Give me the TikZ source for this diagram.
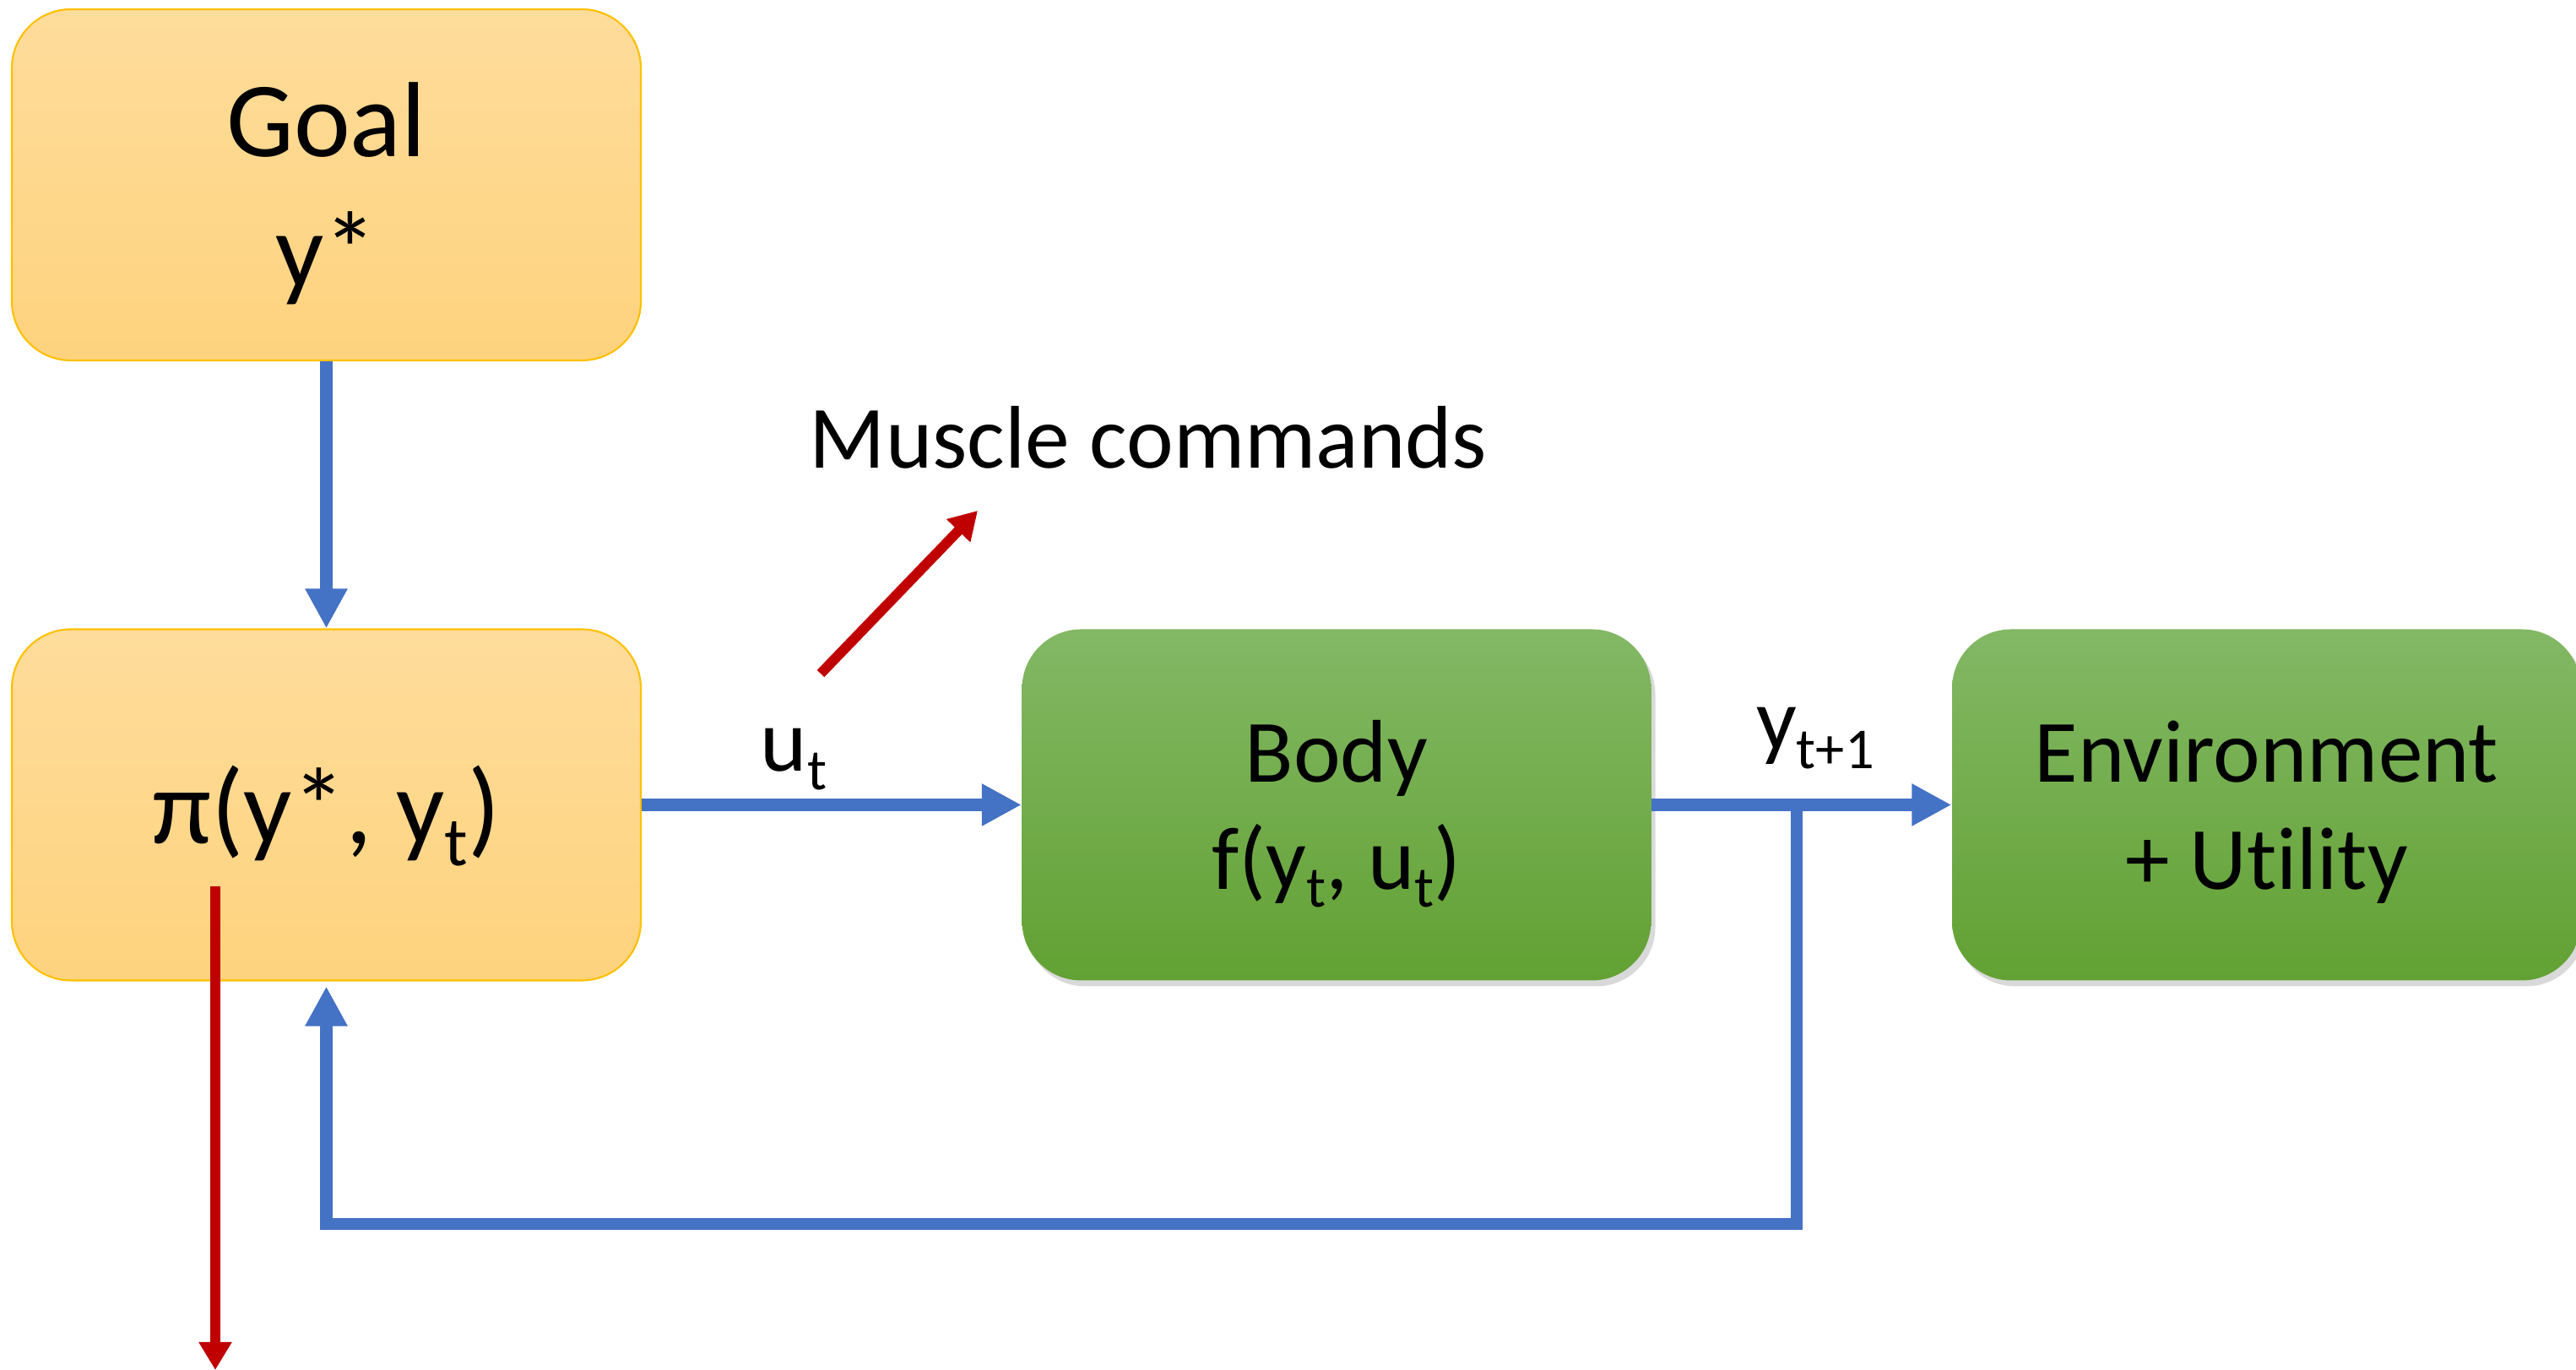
\documentclass[tikz,border=0pt]{standalone}
\usepackage{fontspec}
\setmainfont{Carlito}[Ligatures={NoCommon,NoContextual}]
\usepackage{tikz}
\usetikzlibrary{arrows.meta, shadows}

\definecolor{orangetop}{HTML}{FEDC9B}
\definecolor{orangebot}{HTML}{FED37E}
\definecolor{orangeline}{HTML}{FFC000}
\definecolor{greentop}{HTML}{83B865}
\definecolor{greenbot}{HTML}{62A133}
\definecolor{flowblue}{HTML}{4472C4}
\definecolor{cmdred}{HTML}{C00000}

\newcommand{\lowidx}[1]{\raisebox{-0.2em}{\scalebox{0.65}{#1}}}

\begin{document}
\begin{tikzpicture}[>={Triangle[length=0.47cm, width=0.47cm]},
  block/.style={minimum width=7.45cm, minimum height=4.16cm, rounded corners=0.7cm, align=center, inner sep=0pt, text depth=0pt},
  ctrlbox/.style={block, draw=orangeline, line width=0.6pt, top color=orangetop, bottom color=orangebot, font=\fontsize{36}{44}\selectfont},
  plantbox/.style={block, top color=greentop, bottom color=greenbot, drop shadow={shadow xshift=0.05cm, shadow yshift=-0.07cm, opacity=0.3}, font=\fontsize{30}{36}\selectfont},
  flow/.style={->, draw=flowblue, line width=4.25pt},
  cmd/.style={-{Triangle[length=0.33cm, width=0.37cm]}, draw=cmdred, line width=3.4pt},
  lbl/.style={anchor=base, font=\fontsize{30}{36}\selectfont}]
  \useasboundingbox (0,0) rectangle (30.51,16.23);
  \node (goal) at (3.865,14.04) [ctrlbox] {Goal\\y*};
  \node (policy) at (3.865,6.695) [ctrlbox] {π(y*, y\lowidx{t})};
  \node (body) at (15.83,6.695) [plantbox] {Body\\f(y\lowidx{t}, u\lowidx{t})};
  \node (env) at (26.845,6.695) [plantbox] {Environment\\+ Utility};
  \coordinate (fb) at (21.28,6.695);
  \coordinate (cmdtop) at (2.55,5.73);
  \coordinate (cmdbot) at (2.55,0);
  \coordinate (musclefrom) at (9.72,8.25);
  \coordinate (muscleto) at (11.58,10.18);
  \draw [flow] (goal) -- (policy);
  \draw [flow] (policy) -- (body);
  \draw [flow] (body) -- (env);
  \draw [flow] (fb) -- (21.28,1.73) -| ([yshift=-0.06cm]policy.south);
  \draw [cmd] (cmdtop) -- (cmdbot);
  \draw [cmd] (musclefrom) -- (muscleto);
  \node (ulabel) at (9.40,7.09) [lbl] {u\lowidx{t}};
  \node (ylabel) at (21.50,7.34) [lbl] {y\lowidx{t+1}};
  \node (muscle) at (13.60,10.68) [lbl] {Muscle commands};
\end{tikzpicture}
\end{document}
